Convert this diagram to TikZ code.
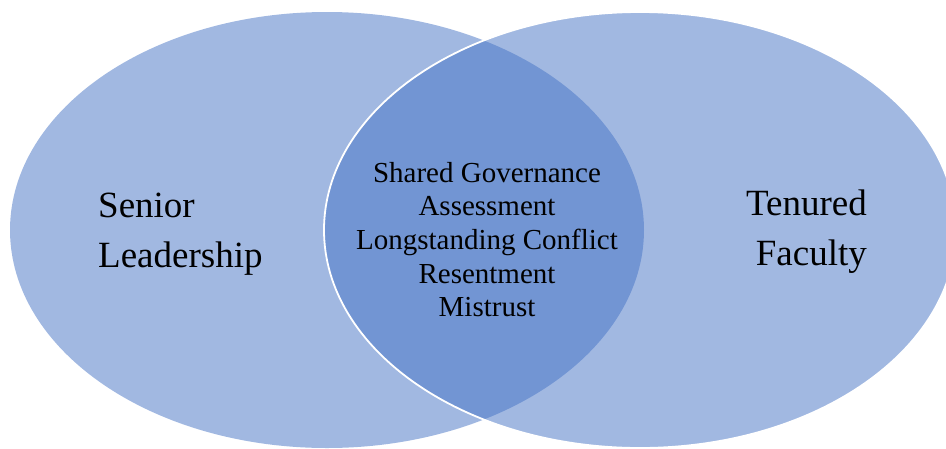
\documentclass[tikz,border=0pt]{standalone}
\usepackage{fontspec}
\setmainfont{Liberation Serif}
\definecolor{accent}{HTML}{4472C4}
\begin{document}
\begin{tikzpicture}[x=1pt,y=-1pt,
  setfill/.style={fill=accent,fill opacity=0.5},
  biglabel/.style={anchor=base,inner sep=0pt,font=\fontsize{37}{50}\selectfont},
  midlabel/.style={anchor=base,inner sep=0pt,font=\fontsize{29}{34}\selectfont}]
\useasboundingbox (0,0) rectangle (946,448);
\clip (0,0) rectangle (946,448);
\fill[setfill] (327,230) ellipse [x radius=317,y radius=218];
\draw[setfill,draw=white,line width=1.8pt] (640,230) ellipse [x radius=316,y radius=218];
\node[biglabel,anchor=base west] (s1) at (98,217) {Senior};
\node[biglabel,anchor=base west] (s2) at (98,267) {Leadership};
\node[biglabel,anchor=base east] (t1) at (867,215) {Tenured};
\node[biglabel,anchor=base east] (t2) at (867,265) {Faculty};
\node[midlabel] (m1) at (487,182) {Shared Governance};
\node[midlabel] (m2) at (487,215.5) {Assessment};
\node[midlabel] (m3) at (487,249.5) {Longstanding Conflict};
\node[midlabel] (m4) at (487,283) {Resentment};
\node[midlabel] (m5) at (487,316.5) {Mistrust};
\end{tikzpicture}
\end{document}
